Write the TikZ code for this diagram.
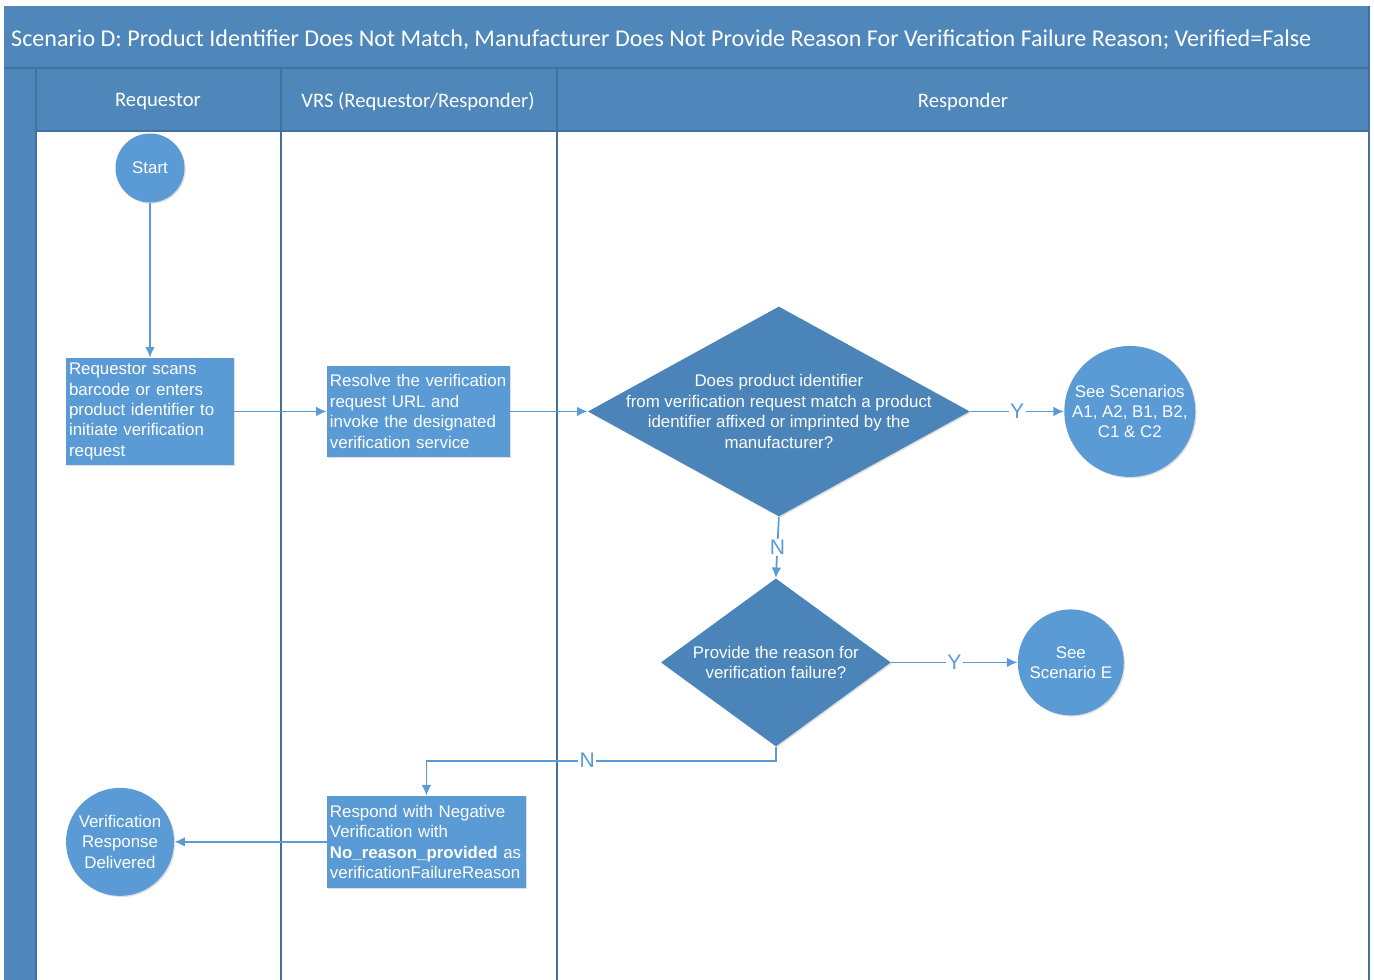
\documentclass[tikz,border=0pt]{standalone}
\usepackage{fontspec}
\setmainfont{Liberation Sans}
\newfontfamily\calibrifont{Carlito}
\usetikzlibrary{shapes, arrows, arrows.meta, shadows}

\definecolor{hdrblue}{HTML}{4F87BA}
\definecolor{shapeblue}{HTML}{5B9BD5}
\definecolor{decblue}{HTML}{4A84B8}
\definecolor{gridblue}{HTML}{41719C}

\tikzstyle{softshadow} = [drop shadow={shadow xshift=0.7pt, shadow yshift=-0.7pt, opacity=0.18, fill=black!70}]
\tikzstyle{process} = [rectangle, fill=shapeblue, text=white, align=left, inner xsep=0.06cm, inner ysep=0.05cm, font=\fontsize{9.6}{11.6}\selectfont, softshadow]
\tikzstyle{terminal} = [circle, fill=shapeblue, text=white, align=center, inner sep=0pt, font=\fontsize{9.6}{11.6}\selectfont, softshadow]
\tikzstyle{decision} = [diamond, fill=decblue, inner sep=0pt, softshadow]
\tikzstyle{dectext} = [text=white, align=center, font=\fontsize{9.6}{11.6}\selectfont]
\tikzstyle{line} = [draw=shapeblue, line width=1pt, -{Latex[length=6pt, width=5.5pt]}]
\tikzstyle{yn} = [fill=white, text=shapeblue, inner sep=0.8pt, font=\fontsize{12}{14}\selectfont, auto=false, anchor=center]
\tikzstyle{lanehead} = [text=white, font=\calibrifont\fontsize{11.75}{14}\selectfont]
\tikzstyle{lanegrid} = [draw=gridblue, line width=0.8pt]

\begin{document}
\begin{tikzpicture}[node distance = 1cm, auto, x=0.02cm, y=-0.02cm]
			\useasboundingbox (0,0) rectangle (1374,980);
			
			% pool and lanes
			\fill [hdrblue] (4,6) rectangle (1370,131);
			\fill [hdrblue] (4,131) rectangle (36,980);
			\draw [lanegrid] (4,68) -- (1370,68);
			\draw [lanegrid] (36,131) -- (1369,131);
			\foreach \lx in {36, 281, 557}
				\draw [lanegrid] (\lx,68) -- (\lx,980);
			\draw [lanegrid] (1369,6) -- (1369,980);
			
			\node [anchor=west, text=white, font=\calibrifont\fontsize{13.7}{16}\selectfont] (title) at (5,40) {Scenario D: Product Identifier Does Not Match, Manufacturer Does Not Provide Reason For Verification Failure Reason; Verified=False};
			\node [lanehead] (lanereq) at (158,102) {Requestor};
			\node [lanehead] (lanevrs) at (418,102) {VRS (Requestor/Responder)};
			\node [lanehead] (laneresp) at (963,102) {Responder};
			
			% flow
			\node [terminal, minimum size=1.38cm] (start) at (150,168) {Start};
			\node [process, below of = start, node distance = 4.87cm, text width=3.24cm, minimum height=2.14cm] (scan) {Requestor scans\\barcode or enters\\product identifier to\\initiate verification\\request};
			\node [process, right of = scan, node distance = 5.37cm, text width=3.54cm, minimum height=1.82cm] (resolve) {Resolve the verification\\request URL and\\invoke the designated\\verification service};
			\node [decision, right of = resolve, node distance = 7.21cm, minimum width=7.64cm, minimum height=4.2cm,
				label={[dectext]center:{Does product identifier\\from verification request match a product\\identifier affixed or imprinted by the\\manufacturer?}}] (match) {};
			\node [terminal, right of = match, node distance = 7.02cm, minimum size=2.62cm] (seeabc) {See Scenarios\\A1, A2, B1, B2,\\C1 \& C2};
			\node [decision, below of = match, node distance = 5.02cm, xshift=-0.06cm, minimum width=4.6cm, minimum height=3.36cm,
				label={[dectext]center:{Provide the reason for\\verification failure?}}] (reason) {};
			\node [terminal, right of = reason, node distance = 5.9cm, minimum size=2.12cm] (seee) {See\\Scenario E};
			\node [process, below of = resolve, node distance = 8.61cm, xshift=0.16cm, text width=3.86cm, minimum height=1.84cm] (respond) {Respond with Negative\\Verification with\\\textbf{No\_reason\_provided} as\\verificationFailureReason};
			\node [terminal, left of = respond, node distance = 6.13cm, minimum size=2.16cm] (delivered) {Verification\\Response\\Delivered};
			
			\path [line] (start) -- (scan);
			\path [line] (scan) -- (resolve);
			\path [line] (resolve) -- (match);
			\path [line] (match) -- node [yn] {Y} (seeabc);
			\path [line] (match.south) -- node [yn] {N} (reason.north);
			\path [line] (reason) -- node [yn] {Y} (seee);
			\path [line] (reason.south) -- ++(0,14) -| node [yn, pos=0.27] {N} (respond.north);
			\path [line] (respond) -- (delivered);
		\end{tikzpicture}
\end{document}
